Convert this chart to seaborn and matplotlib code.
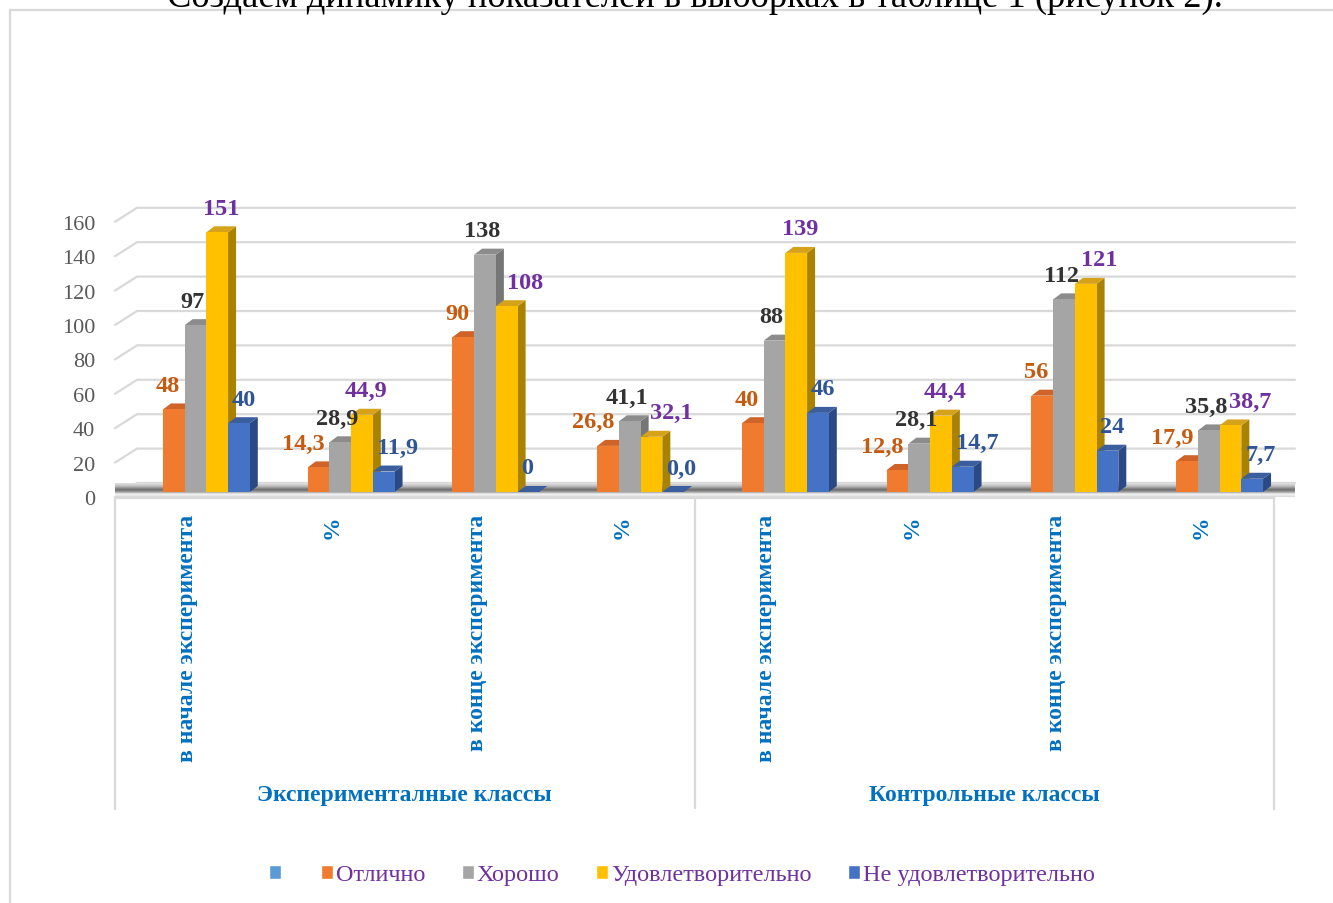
import numpy as np
import pandas as pd
import matplotlib
matplotlib.use("Agg")
import matplotlib.pyplot as plt
import seaborn as sns
from matplotlib.patches import Polygon, Rectangle, Patch
from matplotlib.transforms import ScaledTranslation
from matplotlib.colors import LinearSegmentedColormap

# ---- data ----
categories = ["в начале эксперимента", "%", "в конце эксперимента", "%",
              "в начале эксперимента", "%", "в конце эксперимента", "%"]
groups = ["Эксперименталные классы", "Контрольные классы"]
series = ["Отлично", "Хорошо", "Удовлетворительно", "Не удовлетворительно"]
otlichno = [48, 14.3, 90, 26.8, 40, 12.8, 56, 17.9]
horosho = [97, 28.9, 138, 41.1, 88, 28.1, 112, 35.8]
udovl = [151, 44.9, 108, 32.1, 139, 44.4, 121, 38.7]
neudovl = [40, 11.9, 0, 0.0, 46, 14.7, 24, 7.7]
y_ticks = [0, 20, 40, 60, 80, 100, 120, 140, 160]
page_text = "Создаем динамику показателей в выборках в таблице 1 (рисунок 2)."

colors = ["#F07B2F", "#A5A5A5", "#FFC000", "#4472C4"]
side_colors = ["#B8561A", "#767676", "#A88200", "#2B4A85"]
top_colors = ["#CF6328", "#8C8C8C", "#D6A21A", "#3A5E9E"]
label_colors = ["#C55A11", "#333333", "#7030A0", "#2F5597"]
blue_text = "#0070C0"
grid_col = "#D9D9D9"

sns.set_style("white")
plt.rcParams["font.family"] = ["Liberation Serif", "DejaVu Serif"]

W, H = 1333, 904
fig = plt.figure(figsize=(W / 100, H / 100), dpi=100)

# main plot area (bar plane): x 134..1292 px, value 0 at y=493 px, 1.72 px per unit
ylo, yhi = -4, 166
ppu = 1.72
ax_bottom_px = 493 + (-ylo) * ppu
ax_h_px = (yhi - ylo) * ppu
ax = fig.add_axes([134 / W, 1 - ax_bottom_px / H, 1158 / W, ax_h_px / H])

df = pd.DataFrame({
    "slot": np.tile(np.arange(len(categories)), len(series)),
    "series": np.repeat(series, len(categories)),
    "value": otlichno + horosho + udovl + neudovl,
})
sns.barplot(data=df, x="slot", y="value", hue="series", hue_order=series,
            palette=colors, width=0.6, saturation=1, errorbar=None,
            legend=False, linewidth=0, ax=ax, zorder=2)
ax.set_xlim(-0.5, len(categories) - 0.5)
ax.set_ylim(ylo, yhi)
for s in ax.spines.values():
    s.set_visible(False)
ax.set_xticks([])
ax.set_xlabel("")
ax.set_ylabel("")


def px2data(dxp, dyp):
    inv = ax.transData.inverted()
    a = inv.transform((0, 0))
    b = inv.transform((dxp, dyp))
    return b[0] - a[0], b[1] - a[1]


xl, xr = -0.5, len(categories) - 0.5
fx, fy = px2data(-19, -5)   # front plane
bx, by = px2data(3, 9)      # back wall
ddx, ddy = px2data(8, 6)    # bar depth

# back-wall gridlines with their 3D slant on the left
for v in y_ticks:
    ax.plot([xl + fx, xl + bx, xr + bx], [v + fy, v + by, v + by],
            color=grid_col, lw=1.6, zorder=0.3, clip_on=False,
            solid_joinstyle="miter")

# floor slab with shadow
floor = Polygon([(xl + fx, fy), (xl + bx, by), (xr + bx, by), (xr + fx, fy)],
                closed=True, facecolor="#EEEEEE", edgecolor="none",
                zorder=0.5, clip_on=False)
ax.add_patch(floor)
shade = LinearSegmentedColormap.from_list(
    "floor", [(0, "#D8D8D8"), (0.2, "#F6F6F6"), (0.36, "#A0A0A0"),
              (0.52, "#6A6A6A"), (0.78, "#BDBDBD"), (1.0, "#E2E2E2")])
grad = np.linspace(0, 1, 64).reshape(-1, 1)
im = ax.imshow(grad, cmap=shade, aspect="auto", origin="lower",
               extent=(xl + fx, xr + bx, fy, by), zorder=0.6, clip_on=False)
im.set_clip_path(floor)
ax.set_xlim(-0.5, len(categories) - 0.5)
ax.set_ylim(ylo, yhi)

# 3D faces of bars and data labels
series_vals = [otlichno, horosho, udovl, neudovl]
lab_ha = ["right", "center", "center", "left"]
lab_dx = [6, -3, 4, -7]
avoid_bar = [False, False, True, False]
anns = []
for k, cont in enumerate(ax.containers):
    row = []
    for i, bar in enumerate(cont):
        x0, w, h = bar.get_x(), bar.get_width(), bar.get_height()
        x1 = x0 + w
        ax.add_patch(Polygon([(x1, 0), (x1 + ddx, ddy), (x1 + ddx, h + ddy), (x1, h)],
                             closed=True, facecolor=side_colors[k], edgecolor="none",
                             zorder=1.5))
        ax.add_patch(Polygon([(x0, h), (x0 + ddx, h + ddy), (x1 + ddx, h + ddy), (x1, h)],
                             closed=True, facecolor=top_colors[k], edgecolor="none",
                             zorder=1.5))
        v = series_vals[k][i]
        txt = f"{v:.1f}".replace(".", ",") if categories[i] == "%" else f"{v:.0f}"
        row.append(ax.annotate(txt, (x0 + w / 2, h), xytext=(lab_dx[k], 24),
                               textcoords="offset pixels", ha=lab_ha[k], va="center",
                               fontsize=17.5, fontweight="bold", color=label_colors[k],
                               zorder=5, annotation_clip=False))
    anns.append(row)

# push labels right when they run into the previous label or bar (like Excel does)
fig.canvas.draw()
rend = fig.canvas.get_renderer()
for i in range(len(categories)):
    for k in range(1, len(series)):
        ann = anns[k][i]
        bb = ann.get_window_extent(rend)
        pb = anns[k - 1][i].get_window_extent(rend)
        move = 0
        if abs((bb.y0 + bb.y1) / 2 - (pb.y0 + pb.y1) / 2) < 20 and bb.x0 < pb.x1 + 2:
            move = pb.x1 + 2 - bb.x0
        if avoid_bar[k]:
            pbar = ax.containers[k - 1][i]
            top_px = ax.transData.transform((0, pbar.get_height()))[1]
            right_px = ax.transData.transform((pbar.get_x() + pbar.get_width(), 0))[0] + 8
            if bb.y0 + 4 < top_px and bb.x0 < right_px + 3:
                move = max(move, right_px + 3 - bb.x0)
        if move:
            ann.xyann = (ann.xyann[0] + move, ann.xyann[1])

# value axis labels on the front plane
ax.set_yticks(y_ticks)
ax.set_yticklabels([str(t) for t in y_ticks])
ax.tick_params(axis="y", length=0, pad=28, labelsize=16, labelcolor="#595959")
shift = ScaledTranslation(0, -5 / 100, fig.dpi_scale_trans)
for lbl in ax.get_yticklabels():
    lbl.set_transform(lbl.get_transform() + shift)

# category label box
ax2 = fig.add_axes([115 / W, 1 - 810 / H, 1159 / W, 311 / H])
ax2.set_xlim(-0.5, len(categories) - 0.5)
ax2.set_ylim(0, 1)
ax2.set_xticks([])
ax2.set_yticks([])
ax2.patch.set_alpha(0)
ax2.spines["bottom"].set_visible(False)
for sp in ["top", "left", "right"]:
    ax2.spines[sp].set_color(grid_col)
    ax2.spines[sp].set_linewidth(1.6)
ax2.axvline(3.5, color=grid_col, lw=1.6)
for i, c in enumerate(categories):
    ax2.text(i, 1 - 16 / 311, c, rotation=90, ha="center", va="top",
             fontsize=17, fontweight="bold", color=blue_text)
n_per = len(categories) // len(groups)
for g, name in enumerate(groups):
    ax2.text(g * n_per + (n_per - 1) / 2, 14 / 311, name, ha="center",
             va="center", fontsize=17, fontweight="bold", color=blue_text)

# legend
handles = [Patch(facecolor="#5B9BD5")] + [Patch(facecolor=c) for c in colors]
fig.legend(handles, [""] + series, loc="center", bbox_to_anchor=(682 / W, 1 - 876 / H),
           ncol=5, frameon=False, handlelength=0.5, handleheight=0.5,
           handletextpad=0.12, columnspacing=1.5, fontsize=17.5,
           labelcolor="#7030A0")

# chart border and the page text cut off above it
fig.patches.append(Rectangle((10 / W, -0.05), 1.2, 1.05 - 11 / H,
                             transform=fig.transFigure, fill=False,
                             edgecolor=grid_col, lw=1.6, clip_on=False))
fig.text(695 / W, 1 - 7 / H, page_text, ha="center", va="baseline",
         fontsize=26.3, color="black")

fig.savefig("out.png", dpi=100)
